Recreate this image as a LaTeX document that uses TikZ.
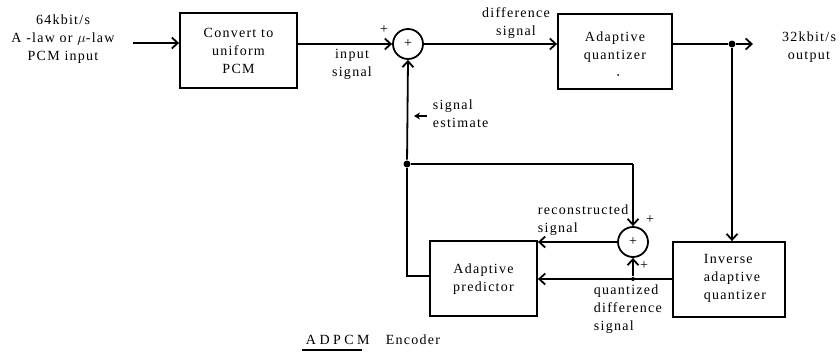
\documentclass[tikz,border=0pt]{standalone}
\usepackage{fontspec}
\setmainfont{Liberation Serif}[LetterSpace=9]
\usetikzlibrary{arrows.meta}
\begin{document}
\begin{tikzpicture}[x=1pt,y=-1pt,
  line width=1.8pt,
  every node/.style={font=\fontsize{14}{18}\selectfont, inner sep=0pt},
  blk/.style={draw, minimum height=75pt},
  summer/.style={draw, circle, minimum size=30pt},
  lbl/.style={align=center},
  lbll/.style={align=left},
  arr/.style={-{Straight Barb[length=6pt,width=11pt]}},
  dot/.style={circle, fill, minimum size=7pt}
]
\useasboundingbox (0,0) rectangle (840,351);

% blocks
\node[blk, minimum width=117pt] (conv) at (238.5,50.5) {};
\node[lbl] (convt) at (238.5,51) {Convert to\\uniform\\PCM};
\node[blk, minimum width=114pt] (quant) at (615,51.5) {};
\node[lbl] (quantt) at (615,47) {Adaptive\\quantizer};
\node[circle, fill, minimum size=2pt] (qdot) at (618,75) {};
\node[blk, minimum width=112pt] (inv) at (729,279.5) {};
\node[lbll] (invt) at (735,278) {Inverse\\adaptive\\quantizer};
\node[blk, minimum width=107pt] (pred) at (483.5,278.5) {};
\node[lbl] (predt) at (483.5,279) {Adaptive\\predictor};

% summers
\node[summer] (s1) at (408,44) {+};
\node[summer] (s2) at (633,242) {+};

% labels
\node[lbl] (inlbl) at (63,39) {64kbit/s\\A -law or $\mu$-law\\PCM input};
\node[lbl] (outlbl) at (809,47) {32kbit/s\\output};
\node[lbl] (isig) at (352,64) {input\\signal};
\node[lbl] (dsig) at (516,23) {difference\\signal};
\node[lbll, anchor=west] (sest) at (432,114) {signal\\estimate};
\node[lbll, anchor=west] (rsig) at (537,220) {reconstructed\\signal};
\node[lbll, anchor=west] (qsig) at (593,309) {quantized\\difference\\signal};
\node (p1) at (384,30) {+};
\node (p2) at (650,220) {+};
\node (p3) at (644,266) {+};
\node[anchor=west, font=\fontsize{14}{18}\selectfont\addfontfeatures{LetterSpace=25}] (cap1) at (305,340) {ADPCM};
\node[anchor=west] (cap2) at (385,340) {Encoder};
\coordinate (ul1) at (302,350);
\coordinate (ul2) at (362,350);
\draw[line width=1.4pt] (ul1) -- (ul2);

% coordinates
\coordinate (inA) at (133,43);
\node[dot] (jq) at (732,44) {};
\coordinate (outA) at (753,44);
\node[dot] (jf) at (407,164) {};
\coordinate (cf) at (633,164);
\coordinate (pl) at (407,276);
\node[dot, minimum size=4pt] (jd) at (633,279) {};
\coordinate (sa1) at (427,116);
\coordinate (sa2) at (414,116);

% connectors
\draw[arr] (inA) -- (inA -| conv.west);
\draw[arr] (s1.west -| conv.east) -- (s1.west);
\draw[arr] (s1.east) -- (s1.east -| quant.west);
\draw (quant.east |- jq) -- (jq);
\draw[arr] (jq) -- (outA);
\draw[arr] (jq) -- (jq |- inv.north);
\draw[arr] (jd -| inv.west) -- (jd -| pred.east);
\draw[arr] (jd) -- (s2.south);
\draw[arr] (s2.west) -- (s2.west -| pred.east);
\draw (pl -| pred.west) -- (pl) -- (jf);
\draw[arr] (jf) -- (s1.south);
\draw (jf) -- (cf);
\draw[arr] (cf) -- (s2.north);
\draw[-{Stealth[length=6pt,width=7pt]}, line width=1.4pt] (sa1) -- (sa2);
\end{tikzpicture}
\end{document}
